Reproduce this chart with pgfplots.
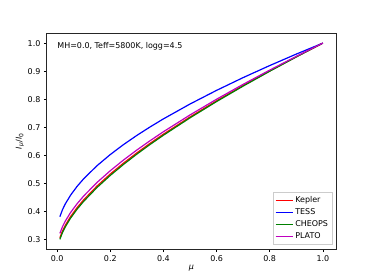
\documentclass[border=0pt]{standalone}
\usepackage{pgfplots}
\pgfplotsset{compat=1.18}
\usepackage{fontspec}
\setmainfont{DejaVu Sans}
\definecolor{mplred}{rgb}{1,0,0}
\definecolor{mplblue}{rgb}{0,0,1}
\definecolor{mplgreen}{rgb}{0,0.5,0}
\definecolor{mplmag}{rgb}{0.75,0,0.75}
\begin{document}
\begin{tikzpicture}[font=\fontsize{8}{9.6}\selectfont]
\path[use as bounding box] (-46.7bp,-30.7bp) rectangle (327.3bp,249.3bp);
\begin{axis}[
  at={(0,0)}, anchor=south west,
  scale only axis, width=289.3bp, height=216bp,
  xmin=-0.0395, xmax=1.0495, ymin=0.265, ymax=1.035,
  xtick={0,0.2,...,1.0}, ytick={0.3,0.4,...,1.0},
  xticklabel style={/pgf/number format/.cd, fixed, fixed zerofill, precision=1},
  yticklabel style={/pgf/number format/.cd, fixed, fixed zerofill, precision=1},
  /pgf/number format/assume math mode=true,
  tick align=outside, major tick length=2.8bp,
  xtick pos=bottom, ytick pos=left,
  tick style={black, line width=0.6bp},
  axis line style={line width=0.65bp, black!85},
  xlabel={\textit{μ}}, ylabel={\textit{I}\textsubscript{\textit{μ}}/\textit{I}\textsubscript{0}},
  xlabel style={yshift=3bp},
  ylabel style={yshift=-3bp},
  legend cell align=left,
  legend style={at={(0.987,0.023)}, anchor=south east, draw=black!20,
    row sep=0.6bp, inner sep=2bp},
]
\addplot[line width=1.2bp, color=mplred] table {
x y
0.01 0.3061
0.02 0.3306
0.03 0.3498
0.05 0.3812
0.075 0.4136
0.1 0.4417
0.15 0.4906
0.2 0.5335
0.25 0.5725
0.3 0.6088
0.35 0.6430
0.4 0.6755
0.5 0.7368
0.6 0.7943
0.7 0.8488
0.8 0.9010
0.9 0.9513
1.0 1.0
};
\addlegendentry{Kepler}
\addplot[line width=1.2bp, color=mplblue] table {
x y
0.01 0.3810
0.02 0.4064
0.03 0.4260
0.05 0.4575
0.075 0.4895
0.1 0.5167
0.15 0.5631
0.2 0.6029
0.25 0.6385
0.3 0.6711
0.35 0.7014
0.4 0.7300
0.5 0.7829
0.6 0.8316
0.7 0.8771
0.8 0.9200
0.9 0.9609
1.0 1.0
};
\addlegendentry{TESS}
\addplot[line width=1.2bp, color=mplgreen] table {
x y
0.01 0.3004
0.02 0.3249
0.03 0.3441
0.05 0.3756
0.075 0.4081
0.1 0.4363
0.15 0.4854
0.2 0.5285
0.25 0.5678
0.3 0.6044
0.35 0.6389
0.4 0.6717
0.5 0.7336
0.6 0.7917
0.7 0.8468
0.8 0.8997
0.9 0.9506
1.0 1.0
};
\addlegendentry{CHEOPS}
\addplot[line width=1.2bp, color=mplmag] table {
x y
0.01 0.3216
0.02 0.3458
0.03 0.3647
0.05 0.3957
0.075 0.4276
0.1 0.4553
0.15 0.5033
0.2 0.5453
0.25 0.5835
0.3 0.6190
0.35 0.6524
0.4 0.6842
0.5 0.7440
0.6 0.8000
0.7 0.8531
0.8 0.9038
0.9 0.9527
1.0 1.0
};
\addlegendentry{PLATO}
\node[anchor=west, inner sep=0pt] at (axis cs:0.0,0.99) {MH=0.0, Teff=5800K, logg=4.5};
\end{axis}
\end{tikzpicture}
\end{document}
